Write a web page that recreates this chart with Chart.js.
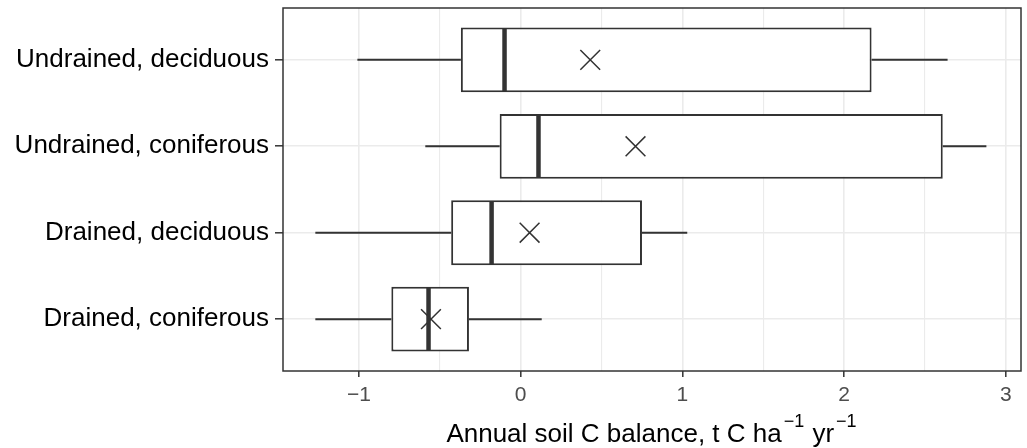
<!DOCTYPE html>
<html>
<head>
<meta charset="utf-8">
<script src="https://cdn.jsdelivr.net/npm/chart.js@4"></script>
<style>
  html, body { margin: 0; padding: 0; background: #ffffff; }
  #wrap { width: 1027px; height: 448px; }
</style>
</head>
<body>
<div id="wrap"><canvas id="boxChart"></canvas></div>
<script>
// Categories from bottom (position 1) to top (position 4)
const categories = ['Drained, coniferous', 'Drained, deciduous', 'Undrained, coniferous', 'Undrained, deciduous'];
const positions = [1, 2, 3, 4];

// Box plot statistics, t C ha-1 yr-1
const whiskerLow  = [-1.27, -1.27, -0.59, -1.01];
const q1          = [-0.80, -0.43, -0.13, -0.37];
const median      = [-0.57, -0.18,  0.11, -0.10];
const q3          = [-0.32,  0.75,  2.61,  2.17];
const whiskerHigh = [ 0.13,  1.03,  2.88,  2.64];
const mean        = [-0.555, 0.055, 0.71,  0.43];

const xTickValues = [-1, -0.5, 0, 0.5, 1, 1.5, 2, 2.5, 3];

// axis title pieces: [text, superscript?]
const xTitleParts = [['Annual soil C balance, t C ha', false], ['\u22121', true], [' yr', false], ['\u22121', true]];

const LINE = '#333333';
const GRID = '#ebebeb';
const FONT = 'Liberation Sans, Arial, sans-serif';
const BOX_HALF = 0.375; // half of box width in category units

const isMajor = v => Math.abs(v - Math.round(v)) < 1e-9;

// Whiskers under the boxes, frame over the grid, median after the boxes
const boxExtras = {
    id: 'boxExtras',
    beforeDatasetsDraw(chart) {
        const { ctx, chartArea, scales: { x, y } } = chart;
        ctx.save();
        ctx.strokeStyle = LINE;
        ctx.lineWidth = 1.5;
        ctx.strokeRect(chartArea.left, chartArea.top, chartArea.right - chartArea.left, chartArea.bottom - chartArea.top);
        ctx.lineWidth = 2;
        positions.forEach((p, i) => {
            const py = y.getPixelForValue(p);
            ctx.beginPath();
            ctx.moveTo(x.getPixelForValue(whiskerLow[i]), py);
            ctx.lineTo(x.getPixelForValue(q1[i]), py);
            ctx.moveTo(x.getPixelForValue(q3[i]), py);
            ctx.lineTo(x.getPixelForValue(whiskerHigh[i]), py);
            ctx.stroke();
        });
        ctx.restore();
    },
    afterDatasetDraw(chart, args) {
        if (args.index !== 0) return;
        const { ctx, scales: { x, y } } = chart;
        ctx.save();
        ctx.strokeStyle = LINE;
        ctx.lineWidth = 4.5;
        positions.forEach((p, i) => {
            const px = x.getPixelForValue(median[i]);
            ctx.beginPath();
            ctx.moveTo(px, y.getPixelForValue(p + BOX_HALF) + 1);
            ctx.lineTo(px, y.getPixelForValue(p - BOX_HALF) - 1);
            ctx.stroke();
        });
        ctx.restore();
    },
    afterDraw(chart) {
        // x axis title with real superscripts
        const { ctx, chartArea } = chart;
        const mainFont = '26px ' + FONT;
        const supFont = '18px ' + FONT;
        ctx.save();
        ctx.fillStyle = '#000000';
        ctx.textBaseline = 'alphabetic';
        ctx.textAlign = 'left';
        const widths = xTitleParts.map(([t, sup]) => {
            ctx.font = sup ? supFont : mainFont;
            return ctx.measureText(t).width + (sup ? 3 : 0);
        });
        const total = widths.reduce((a, b) => a + b, 0);
        let cx = (chartArea.left + chartArea.right) / 2 - total / 2;
        const base = 442;
        xTitleParts.forEach(([t, sup], i) => {
            ctx.font = sup ? supFont : mainFont;
            ctx.fillText(t, cx + (sup ? 2 : 0), sup ? base - 15 : base);
            cx += widths[i];
        });
        ctx.restore();
    }
};

const ctx = document.getElementById('boxChart').getContext('2d');
const boxChart = new Chart(ctx, {
    data: {
        datasets: [{
            type: 'bar',
            indexAxis: 'y',
            data: positions.map((p, i) => ({ y: p, x: [q1[i], q3[i]] })),
            backgroundColor: '#ffffff',
            borderColor: LINE,
            borderWidth: 2,
            borderSkipped: false,
            barPercentage: 1,
            categoryPercentage: 0.75,
            order: 2
        }, {
            type: 'scatter',
            data: positions.map((p, i) => ({ x: mean[i], y: p })),
            pointStyle: 'crossRot',
            pointRadius: 14,
            borderColor: LINE,
            borderWidth: 1.5,
            order: 1
        }]
    },
    options: {
        responsive: true,
        maintainAspectRatio: false,
        animation: false,
        layout: { autoPadding: false, padding: { top: 8, right: 6, left: 0, bottom: 0 } },
        plugins: {
            legend: { display: false },
            tooltip: { enabled: false }
        },
        scales: {
            x: {
                type: 'linear',
                position: 'bottom',
                min: -1.47,
                max: 3.094,
                offset: false,
                afterBuildTicks: s => { s.ticks = xTickValues.map(v => ({ value: v })); },
                afterFit: s => { s.height = 77; s.paddingLeft = 0; s.paddingRight = 0; },
                border: { display: false },
                grid: {
                    offset: false,
                    color: GRID,
                    lineWidth: c => isMajor(c.tick.value) ? 1.6 : 1.1,
                    tickColor: c => isMajor(c.tick.value) ? LINE : 'rgba(0,0,0,0)',
                    tickLength: 6,
                    tickWidth: 1.5
                },
                ticks: {
                    autoSkip: false,
                    maxRotation: 0,
                    padding: 6,
                    color: '#4d4d4d',
                    font: { family: FONT, size: 21 },
                    callback: v => isMajor(v) ? (v < 0 ? '\u2212' + Math.abs(v) : String(v)) : ''
                },
                title: { display: false }
            },
            y: {
                type: 'linear',
                min: 0.4,
                max: 4.6,
                offset: false,
                afterBuildTicks: s => { s.ticks = positions.map(v => ({ value: v })); },
                afterFit: s => { s.width = 283; s.paddingTop = 0; s.paddingBottom = 0; },
                border: { display: false },
                grid: {
                    offset: false,
                    color: GRID,
                    lineWidth: 1.6,
                    tickColor: LINE,
                    tickLength: 8,
                    tickWidth: 1.5
                },
                ticks: {
                    autoSkip: false,
                    padding: 6,
                    color: '#000000',
                    font: { family: FONT, size: 26 },
                    callback: v => categories[positions.indexOf(v)]
                }
            }
        }
    },
    plugins: [boxExtras]
});
</script>
</body>
</html>
